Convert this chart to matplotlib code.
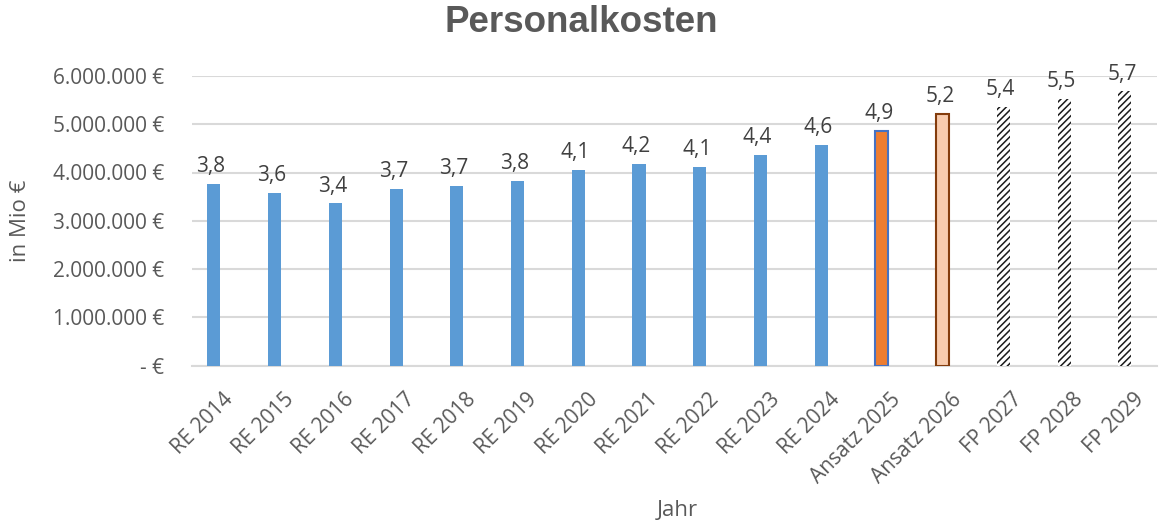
import numpy as np
import matplotlib.pyplot as plt
from matplotlib.transforms import ScaledTranslation

# Personalkosten je Jahr (in Euro)
jahre = ['RE 2014', 'RE 2015', 'RE 2016', 'RE 2017', 'RE 2018', 'RE 2019',
         'RE 2020', 'RE 2021', 'RE 2022', 'RE 2023', 'RE 2024',
         'Ansatz 2025', 'Ansatz 2026', 'FP 2027', 'FP 2028', 'FP 2029']
kosten = [3760000, 3580000, 3360000, 3660000, 3720000, 3820000,
          4060000, 4180000, 4120000, 4360000, 4580000,
          4860000, 5220000, 5360000, 5520000, 5680000]
art = ['RE'] * 11 + ['Ansatz25', 'Ansatz26'] + ['FP'] * 3

ytick_werte = [0, 1000000, 2000000, 3000000, 4000000, 5000000, 6000000]

stil = {
    'RE': dict(color='#5B9BD5', edgecolor='#5B9BD5', linewidth=0),
    'Ansatz25': dict(color='#ED7D31', edgecolor='#4472C4', linewidth=1.5),
    'Ansatz26': dict(color='#F8CBAD', edgecolor='#843C0C', linewidth=1.5),
    'FP': dict(color='white', edgecolor='#1a1a1a', linewidth=0, hatch='/////'),
}

plt.rcParams['font.family'] = ['Open Sans', 'DejaVu Sans']
plt.rcParams['hatch.linewidth'] = 1.1

fig = plt.figure(figsize=(11.6, 5.24), dpi=100)
ax = fig.add_axes([192 / 1160, 1 - 365.5 / 524, (1157 - 192) / 1160, (365.5 - 76) / 524])

x = np.arange(len(jahre))
for i in range(len(jahre)):
    ax.bar(x[i], kosten[i], width=0.215, zorder=3, **stil[art[i]])
    ax.annotate(f'{kosten[i] / 1e6:.1f}'.replace('.', ','), (x[i], kosten[i]),
                xytext=(-2, 12.5), textcoords='offset points', ha='center', va='center',
                fontsize=15, color='#404040', annotation_clip=False)

ax.set_xlim(-0.36, 15.53)
ax.set_ylim(0, 6000000)
ax.set_yticks(ytick_werte)


def euro(v):
    if v == 0:
        return '- €'
    return f'{int(v):,} €'.replace(',', '.')


ax.set_yticklabels([euro(v) for v in ytick_werte])
ax.set_xticks(x)
ax.set_xticklabels(jahre, rotation=45, ha='right', va='center', rotation_mode='anchor')

ax.tick_params(axis='y', length=0, pad=20, labelsize=15, labelcolor='#595959')
ax.tick_params(axis='x', length=0, pad=0, labelsize=15, labelcolor='#595959')
for lab in ax.get_xticklabels():
    lab.set_transform(lab.get_transform() + ScaledTranslation(0.16, -0.31, fig.dpi_scale_trans))

ax.grid(axis='y', color='#D9D9D9', linewidth=1.5, zorder=0)
for s in ['top', 'right', 'left']:
    ax.spines[s].set_visible(False)
ax.spines['bottom'].set_color('#D9D9D9')
ax.spines['bottom'].set_linewidth(1.5)

fig.text(581 / 1160, 1 - 23 / 524, 'Personalkosten', ha='center', va='center',
         fontsize=26.5, fontweight='bold', color='#595959', family=['Liberation Sans', 'DejaVu Sans'])
fig.text(21 / 1160, 1 - 221 / 524, 'in Mio €', rotation=90, ha='center', va='center',
         fontsize=16, color='#595959')
fig.text(677 / 1160, 1 - 510 / 524, 'Jahr', ha='center', va='center',
         fontsize=16, color='#595959')

fig.savefig('out.png', dpi=100)
